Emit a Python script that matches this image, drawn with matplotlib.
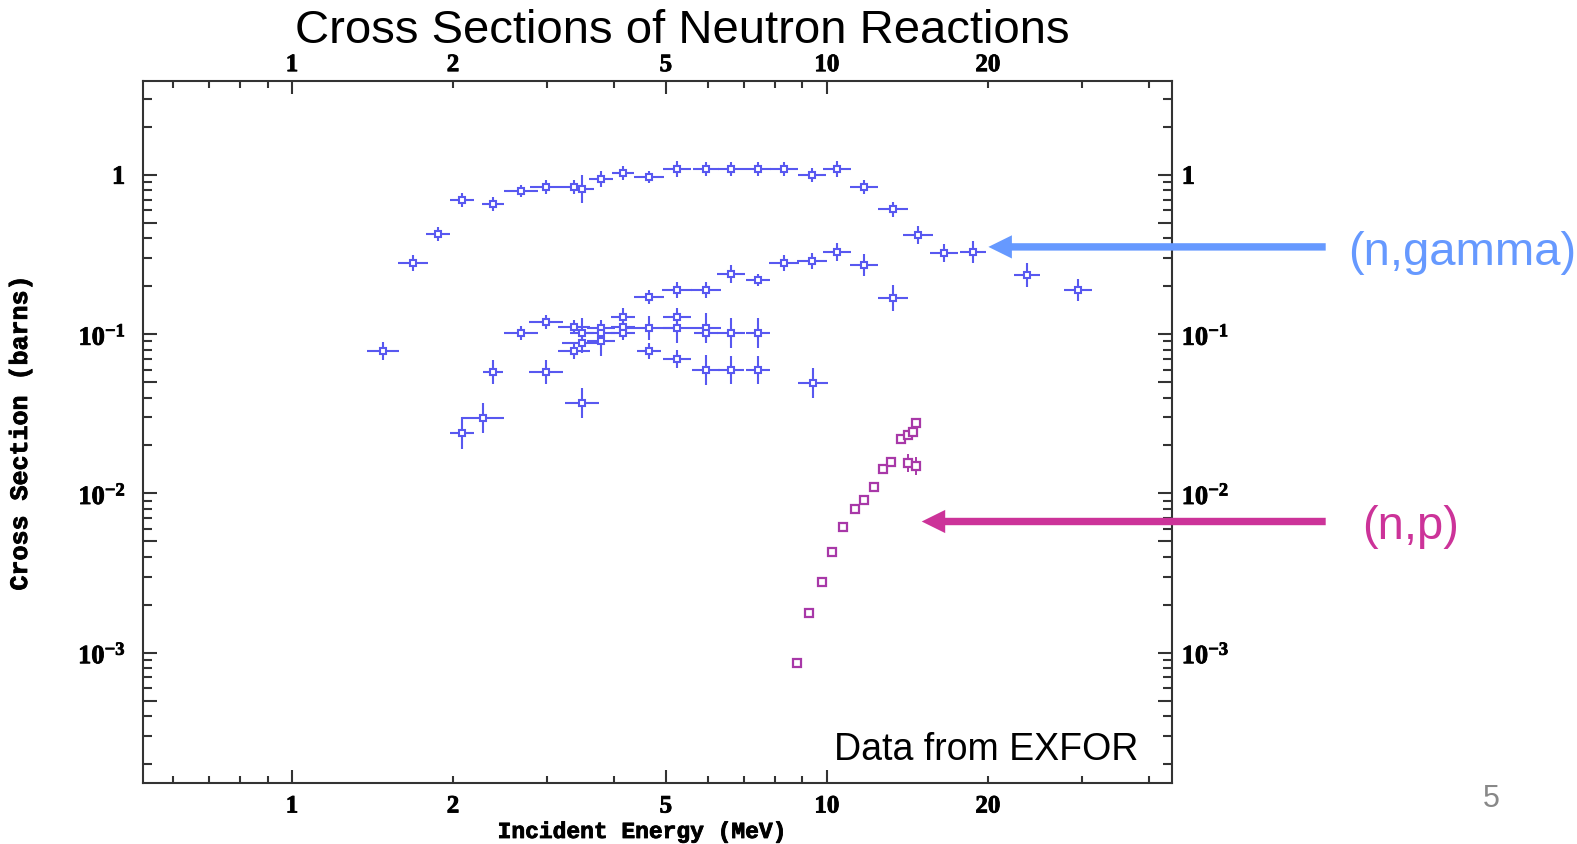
import matplotlib
matplotlib.use("Agg")
import matplotlib.pyplot as plt
import matplotlib.patheffects as pe
from matplotlib.ticker import FixedLocator, FuncFormatter
from matplotlib.patches import FancyArrow

# ---------------- data ----------------
# (n,gamma) data points: energy (MeV), cross section (barns), errors in percent
ng_E = [1.686, 1.877, 2.076, 2.378, 2.676, 2.98, 3.372, 3.48, 3.776, 4.163, 4.644, 5.253,
        5.943, 6.61, 7.42, 8.31, 9.39, 10.46, 11.75, 13.27, 14.82, 16.58, 18.78, 23.64, 29.5,
        4.644, 5.253, 5.943, 6.61, 7.42, 8.31, 9.39, 10.46, 11.75, 13.27,
        1.477, 2.676, 2.98, 3.372, 3.372, 3.48, 3.48, 3.776, 3.776, 3.776, 4.163, 4.163, 4.163,
        4.644, 4.644, 5.253, 5.253, 5.253, 5.943, 5.943, 5.943, 6.61, 6.61, 7.42, 7.42, 9.41,
        2.378, 2.98, 3.48, 2.273, 2.076]
ng_xs = [0.279, 0.424, 0.697, 0.657, 0.797, 0.845, 0.845, 0.813, 0.944, 1.025, 0.967, 1.086,
         1.086, 1.086, 1.086, 1.086, 1.0, 1.086, 0.845, 0.609, 0.422, 0.322, 0.33, 0.235, 0.1896,
         0.1705, 0.1896, 0.1896, 0.238, 0.219, 0.279, 0.288, 0.33, 0.272, 0.1697,
         0.0788, 0.1013, 0.1193, 0.1105, 0.0788, 0.102, 0.0877, 0.1089, 0.1013, 0.091, 0.1288, 0.1105, 0.1013,
         0.11, 0.0788, 0.1288, 0.11, 0.0699, 0.11, 0.1013, 0.0596, 0.1013, 0.0596, 0.1013, 0.0596, 0.0491,
         0.0581, 0.0581, 0.0371, 0.0299, 0.0238]
ng_dE_pct = [6.7, 5.3, 5.3, 4.8, 7.6, 7.1, 5.3, 5.3, 5.3, 4.8, 6.7, 6.2,
             5.8, 5.8, 5.8, 6.2, 6.2, 6.2, 6.2, 6.7, 6.7, 6.2, 5.8, 5.8, 6.2,
             6.7, 6.7, 6.7, 6.2, 5.3, 6.7, 6.7, 6.2, 6.2, 6.7,
             7.1, 7.6, 7.6, 7.1, 7.1, 5.3, 9.0, 6.2, 6.2, 6.2, 5.3, 5.3, 5.3,
             13.8, 5.3, 6.2, 6.2, 6.2, 6.7, 5.3, 6.2, 6.2, 5.8, 5.3, 5.3, 6.7,
             4.4, 7.6, 7.6, 9.5, 5.3]
ng_dxs_pct = [12.3, 10.5, 10.5, 10.5, 9.1, 10.5, 10.5, 22.4, 12.3, 10.5, 9.1, 12.3,
              10.5, 10.5, 10.5, 10.5, 10.5, 12.3, 10.5, 11.4, 13.9, 13.9, 17.2, 19.0, 17.2,
              10.5, 12.3, 12.3, 13.9, 9.1, 12.3, 12.3, 13.9, 17.2, 20.7,
              13.9, 10.5, 10.5, 10.5, 12.3, 24.2, 15.0, 12.3, 12.3, 24.2, 13.9, 13.9, 10.5,
              19.0, 12.3, 13.9, 24.2, 13.9, 24.2, 10.5, 24.2, 24.2, 22.4, 24.2, 22.4, 24.2,
              19.0, 19.0, 24.2, 24.2, 26.0]

# (n,p) data points
np_E = [8.805, 9.26, 9.78, 10.21, 10.73, 11.28, 11.75, 12.25, 12.75, 13.18, 13.74, 14.16,
        14.51, 14.66, 14.16, 14.66]
np_xs = [0.000864, 0.00178, 0.00276, 0.00428, 0.00618, 0.00794, 0.00909, 0.01102, 0.01417,
         0.0158, 0.02197, 0.0233, 0.0244, 0.0276, 0.01545, 0.01493]
np_dxs_pct = [6, 4, 4, 0, 0, 0, 0, 0, 0, 0, 0, 0, 6, 0, 14, 14]

x_major = [1, 5, 10]
x_minor = [0.6, 0.7, 0.8, 0.9, 2, 3, 4, 6, 7, 8, 9, 20, 30, 40]
x_minor_labeled = [2, 20]
y_labels = {1.0: r"$1$", 0.1: r"$10^{-1}$", 0.01: r"$10^{-2}$", 0.001: r"$10^{-3}$"}

# ---------------- styling ----------------
tick_font = ["Liberation Serif", "DejaVu Serif"]
plt.rcParams["font.family"] = ["Liberation Mono", "DejaVu Sans Mono"]
plt.rcParams["font.weight"] = "bold"
plt.rcParams["mathtext.fontset"] = "custom"
plt.rcParams["mathtext.rm"] = "Liberation Serif:bold"
plt.rcParams["mathtext.it"] = "Liberation Serif:bold"
plt.rcParams["mathtext.bf"] = "Liberation Serif:bold"
plt.rcParams["mathtext.default"] = "rm"

W, H = 1577, 844
fig = plt.figure(figsize=(W / 100, H / 100), dpi=100)
fig.patch.set_facecolor("white")

L, R, T, B = 142.5, 1172.0, 81.0, 782.7
ax = fig.add_axes([L / W, 1 - B / H, (R - L) / W, (B - T) / H])
ax.set_xscale("log")
ax.set_yscale("log")
ax.set_xlim(0.5254, 44.19)
ax.set_ylim(1.523e-4, 3.895)

blue = "#5858F0"
purple = "#A838A8"

def asym(vals, pct):
    lo = [v - v / (1 + p / 100.0) for v, p in zip(vals, pct)]
    hi = [v * p / 100.0 for v, p in zip(vals, pct)]
    return [lo, hi]

ax.errorbar(ng_E, ng_xs, xerr=asym(ng_E, ng_dE_pct), yerr=asym(ng_xs, ng_dxs_pct),
            fmt="s", ms=4.8, mfc="white", mec=blue, mew=1.5, ecolor=blue,
            elinewidth=1.5, capsize=0, zorder=3)
ax.errorbar(np_E, np_xs, yerr=asym(np_xs, np_dxs_pct),
            fmt="s", ms=5.6, mfc="white", mec=purple, mew=1.6, ecolor=purple,
            elinewidth=1.4, capsize=0, zorder=3)

# ticks
spine_c = "#333333"
for s in ax.spines.values():
    s.set_linewidth(1.5)
    s.set_color(spine_c)

def y_major_list():
    out = []
    for e in range(-4, 1):
        for m in (1, 5):
            v = m * 10.0 ** e
            if 1.523e-4 <= v <= 3.895:
                out.append(v)
    return out

def y_minor_list():
    out = []
    for e in range(-4, 1):
        for m in (2, 3, 4, 6, 7, 8, 9):
            v = m * 10.0 ** e
            if 1.523e-4 <= v <= 3.895:
                out.append(v)
    return out

def ylab(v, pos):
    for k, s in y_labels.items():
        if abs(v - k) / k < 1e-6:
            return s
    return ""

def xmaj(v, pos):
    return "%g" % v

def xmin(v, pos):
    for k in x_minor_labeled:
        if abs(v - k) < 1e-6:
            return "%g" % k
    return ""

def setup_x(axis):
    axis.set_major_locator(FixedLocator(x_major))
    axis.set_minor_locator(FixedLocator(x_minor))
    axis.set_major_formatter(FuncFormatter(xmaj))
    axis.set_minor_formatter(FuncFormatter(xmin))

def setup_y(axis):
    axis.set_major_locator(FixedLocator(y_major_list()))
    axis.set_minor_locator(FixedLocator(y_minor_list()))
    axis.set_major_formatter(FuncFormatter(ylab))
    axis.set_minor_formatter(FuncFormatter(lambda v, p: ""))

XS, YS = 18, 19
setup_x(ax.xaxis)
setup_y(ax.yaxis)
ax.tick_params(axis="x", which="major", direction="in", length=9.5, width=1.5,
               color=spine_c, labelsize=XS, pad=8.5, top=True, labeltop=False)
ax.tick_params(axis="x", which="minor", direction="in", length=5.2, width=1.5,
               color=spine_c, labelsize=XS, pad=8.5, top=True, labeltop=False)
ax.tick_params(axis="y", which="major", direction="in", length=10.4, width=1.5,
               color=spine_c, labelsize=YS, pad=12, right=True, labelright=False)
ax.tick_params(axis="y", which="minor", direction="in", length=6.3, width=1.5,
               color=spine_c, labelsize=YS, pad=12, right=True, labelright=False)

secx = ax.secondary_xaxis("top")
setup_x(secx.xaxis)
secx.tick_params(axis="x", which="both", direction="in", length=0, labelsize=XS, pad=3.5)
secx.spines["top"].set_visible(False)
secy = ax.secondary_yaxis("right")
setup_y(secy.yaxis)
secy.tick_params(axis="y", which="both", direction="in", length=0, labelsize=YS, pad=7)
secy.spines["right"].set_visible(False)

thick = [pe.withStroke(linewidth=0.6, foreground="black")]
for axis in (ax.xaxis, ax.yaxis, secx.xaxis, secy.yaxis):
    for t in axis.get_major_ticks() + axis.get_minor_ticks():
        for lb in (t.label1, t.label2):
            lb.set_path_effects(thick)
            lb.set_family(tick_font)

# axis labels
fig.text(642 / W, 1 - 838 / H, "Incident Energy (MeV)", ha="center", va="baseline",
         fontsize=16.5, fontweight="bold", path_effects=thick)
fig.text(20 / W, 1 - 433 / H, "Cross Section (barns)", ha="center", va="center",
         rotation=90, fontsize=18, fontweight="bold", path_effects=thick)

# title and annotations
sans = ["Liberation Sans", "DejaVu Sans"]
fig.text(682.7 / W, 1 - 43 / H, "Cross Sections of Neutron Reactions", ha="center",
         va="baseline", fontsize=34, family=sans, fontweight="normal")
fig.text(1138.4 / W, 1 - 760 / H, "Data from EXFOR", ha="right", va="baseline",
         fontsize=27, family=sans, fontweight="normal")
fig.text(1348 / W, 1 - 265 / H, "(n,gamma)", ha="left", va="baseline",
         fontsize=34, family=sans, fontweight="normal", color="#6699FF")
fig.text(1361.7 / W, 1 - 539.3 / H, "(n,p)", ha="left", va="baseline",
         fontsize=34, family=sans, fontweight="normal", color="#CC3399")
fig.text(1483 / W, 1 - 807 / H, "5", ha="left", va="baseline",
         fontsize=22, family=sans, fontweight="normal", color="#888888")

def add_arrow(x_tail, x_tip, y, color):
    a = FancyArrow(x_tail / 100, (H - y) / 100, (x_tip - x_tail) / 100, 0,
                   width=0.074, head_width=0.232, head_length=0.235,
                   length_includes_head=True, color=color, lw=0,
                   transform=fig.dpi_scale_trans)
    fig.add_artist(a)

add_arrow(1325.7, 988.4, 246.9, "#6699FF")
add_arrow(1325.7, 921.7, 521.5, "#CC3399")

fig.savefig("out.png", dpi=100, facecolor="white")
